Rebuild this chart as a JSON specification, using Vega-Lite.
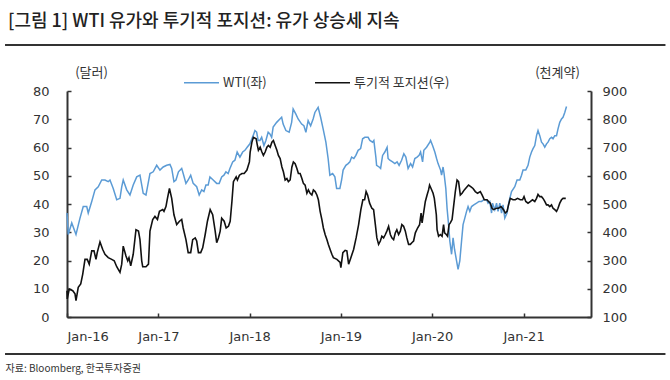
{
  "$schema": "https://vega.github.io/schema/vega-lite/v6.json",
  "width": 524,
  "height": 226,
  "autosize": {"type": "none"},
  "padding": {"left": 67, "top": 91, "right": 79, "bottom": 63},
  "background": "white",
  "config": {
    "view": {"stroke": null},
    "font": "Noto Sans CJK KR",
    "axis": {
      "grid": false,
      "labelFont": "DejaVu Sans",
      "labelFontSize": 13,
      "labelColor": "#333333",
      "domainColor": "#333333",
      "domainWidth": 2,
      "tickColor": "#333333",
      "tickWidth": 1.5,
      "tickSize": -4,
      "titleFont": "Noto Sans CJK KR",
      "titleFontWeight": "normal",
      "titleColor": "#333333"
    }
  },
  "title": {
    "text": "[그림 1] WTI 유가와 투기적 포지션: 유가 상승세 지속",
    "anchor": "start",
    "frame": "group",
    "dx": -59,
    "dy": 17,
    "offset": 12,
    "fontSize": 18,
    "font": "Noto Sans CJK KR",
    "fontWeight": 500,
    "color": "#222222",
    "baseline": "bottom"
  },
  "datasets": {
    "wti": [
      {"date": "2016-01-01", "wti": 36.8},
      {"date": "2016-01-06", "wti": 29.2},
      {"date": "2016-01-20", "wti": 33.3},
      {"date": "2016-02-06", "wti": 29.2},
      {"date": "2016-02-22", "wti": 35.0},
      {"date": "2016-03-06", "wti": 39.1},
      {"date": "2016-03-20", "wti": 39.1},
      {"date": "2016-03-26", "wti": 36.8},
      {"date": "2016-04-09", "wti": 40.9},
      {"date": "2016-04-22", "wti": 45.0},
      {"date": "2016-05-05", "wti": 46.1},
      {"date": "2016-05-19", "wti": 48.5},
      {"date": "2016-06-01", "wti": 48.5},
      {"date": "2016-06-14", "wti": 47.9},
      {"date": "2016-06-21", "wti": 48.5},
      {"date": "2016-07-04", "wti": 45.5},
      {"date": "2016-07-18", "wti": 41.5},
      {"date": "2016-07-31", "wti": 42.0},
      {"date": "2016-08-07", "wti": 46.1},
      {"date": "2016-08-13", "wti": 48.5},
      {"date": "2016-08-27", "wti": 45.0},
      {"date": "2016-09-09", "wti": 43.2},
      {"date": "2016-09-22", "wti": 46.7},
      {"date": "2016-10-06", "wti": 49.6},
      {"date": "2016-10-19", "wti": 50.2},
      {"date": "2016-11-01", "wti": 43.8},
      {"date": "2016-11-12", "wti": 43.2},
      {"date": "2016-11-17", "wti": 45.5},
      {"date": "2016-11-28", "wti": 50.8},
      {"date": "2016-12-11", "wti": 51.4},
      {"date": "2016-12-25", "wti": 53.7},
      {"date": "2017-01-07", "wti": 52.0},
      {"date": "2017-01-20", "wti": 53.1},
      {"date": "2017-02-03", "wti": 53.7},
      {"date": "2017-02-16", "wti": 54.0},
      {"date": "2017-02-23", "wti": 52.6},
      {"date": "2017-03-04", "wti": 47.9},
      {"date": "2017-03-12", "wti": 48.5},
      {"date": "2017-03-22", "wti": 51.4},
      {"date": "2017-04-04", "wti": 52.6},
      {"date": "2017-04-10", "wti": 50.8},
      {"date": "2017-04-21", "wti": 47.3},
      {"date": "2017-04-30", "wti": 48.5},
      {"date": "2017-05-10", "wti": 50.2},
      {"date": "2017-05-20", "wti": 47.3},
      {"date": "2017-06-03", "wti": 46.1},
      {"date": "2017-06-13", "wti": 43.2},
      {"date": "2017-06-23", "wti": 45.0},
      {"date": "2017-07-02", "wti": 44.4},
      {"date": "2017-07-10", "wti": 46.7},
      {"date": "2017-07-19", "wti": 46.7},
      {"date": "2017-07-26", "wti": 49.6},
      {"date": "2017-08-08", "wti": 48.5},
      {"date": "2017-08-22", "wti": 47.3},
      {"date": "2017-09-01", "wti": 47.3},
      {"date": "2017-09-11", "wti": 49.6},
      {"date": "2017-09-20", "wti": 50.2},
      {"date": "2017-09-28", "wti": 51.4},
      {"date": "2017-10-07", "wti": 50.8},
      {"date": "2017-10-14", "wti": 52.6},
      {"date": "2017-10-25", "wti": 54.9},
      {"date": "2017-11-03", "wti": 55.5},
      {"date": "2017-11-12", "wti": 58.4},
      {"date": "2017-11-23", "wti": 56.6},
      {"date": "2017-12-04", "wti": 58.4},
      {"date": "2017-12-13", "wti": 59.0},
      {"date": "2017-12-22", "wti": 60.1},
      {"date": "2018-01-02", "wti": 61.3},
      {"date": "2018-01-15", "wti": 64.2},
      {"date": "2018-01-22", "wti": 66.0},
      {"date": "2018-01-29", "wti": 65.4},
      {"date": "2018-02-04", "wti": 62.5},
      {"date": "2018-02-11", "wti": 62.5},
      {"date": "2018-02-18", "wti": 63.6},
      {"date": "2018-02-27", "wti": 60.7},
      {"date": "2018-03-07", "wti": 62.5},
      {"date": "2018-03-16", "wti": 65.4},
      {"date": "2018-03-23", "wti": 64.8},
      {"date": "2018-03-30", "wti": 63.6},
      {"date": "2018-04-05", "wti": 67.2},
      {"date": "2018-04-19", "wti": 68.9},
      {"date": "2018-05-02", "wti": 70.1},
      {"date": "2018-05-09", "wti": 70.7},
      {"date": "2018-05-15", "wti": 68.3},
      {"date": "2018-05-26", "wti": 66.0},
      {"date": "2018-06-08", "wti": 65.4},
      {"date": "2018-06-18", "wti": 68.9},
      {"date": "2018-06-24", "wti": 73.6},
      {"date": "2018-07-05", "wti": 71.8},
      {"date": "2018-07-14", "wti": 70.1},
      {"date": "2018-07-28", "wti": 68.3},
      {"date": "2018-08-06", "wti": 67.7},
      {"date": "2018-08-14", "wti": 65.4},
      {"date": "2018-08-23", "wti": 69.5},
      {"date": "2018-09-02", "wti": 67.7},
      {"date": "2018-09-12", "wti": 70.1},
      {"date": "2018-09-19", "wti": 72.4},
      {"date": "2018-10-02", "wti": 74.2},
      {"date": "2018-10-12", "wti": 70.7},
      {"date": "2018-10-22", "wti": 66.6},
      {"date": "2018-11-02", "wti": 61.9},
      {"date": "2018-11-11", "wti": 56.1},
      {"date": "2018-11-18", "wti": 50.2},
      {"date": "2018-11-29", "wti": 50.8},
      {"date": "2018-12-08", "wti": 49.6},
      {"date": "2018-12-15", "wti": 45.5},
      {"date": "2018-12-28", "wti": 45.5},
      {"date": "2019-01-04", "wti": 48.5},
      {"date": "2019-01-10", "wti": 52.0},
      {"date": "2019-01-21", "wti": 53.7},
      {"date": "2019-01-30", "wti": 54.3},
      {"date": "2019-02-06", "wti": 54.9},
      {"date": "2019-02-13", "wti": 56.6},
      {"date": "2019-02-22", "wti": 56.1},
      {"date": "2019-03-02", "wti": 57.2},
      {"date": "2019-03-11", "wti": 59.0},
      {"date": "2019-03-21", "wti": 59.6},
      {"date": "2019-03-29", "wti": 63.1},
      {"date": "2019-04-07", "wti": 63.6},
      {"date": "2019-04-20", "wti": 63.6},
      {"date": "2019-04-27", "wti": 62.5},
      {"date": "2019-05-08", "wti": 61.9},
      {"date": "2019-05-13", "wti": 62.5},
      {"date": "2019-05-21", "wti": 56.6},
      {"date": "2019-05-24", "wti": 53.7},
      {"date": "2019-06-03", "wti": 53.1},
      {"date": "2019-06-09", "wti": 52.6},
      {"date": "2019-06-17", "wti": 57.2},
      {"date": "2019-06-26", "wti": 58.4},
      {"date": "2019-07-05", "wti": 60.1},
      {"date": "2019-07-09", "wti": 56.1},
      {"date": "2019-07-16", "wti": 55.5},
      {"date": "2019-07-27", "wti": 54.9},
      {"date": "2019-08-05", "wti": 54.3},
      {"date": "2019-08-14", "wti": 54.9},
      {"date": "2019-08-22", "wti": 53.7},
      {"date": "2019-09-01", "wti": 55.5},
      {"date": "2019-09-10", "wti": 57.8},
      {"date": "2019-09-18", "wti": 56.6},
      {"date": "2019-09-27", "wti": 52.6},
      {"date": "2019-10-07", "wti": 54.3},
      {"date": "2019-10-15", "wti": 53.1},
      {"date": "2019-10-24", "wti": 56.1},
      {"date": "2019-11-02", "wti": 56.6},
      {"date": "2019-11-10", "wti": 57.2},
      {"date": "2019-11-16", "wti": 58.4},
      {"date": "2019-11-24", "wti": 54.9},
      {"date": "2019-11-29", "wti": 59.0},
      {"date": "2019-12-10", "wti": 60.1},
      {"date": "2019-12-23", "wti": 61.9},
      {"date": "2019-12-26", "wti": 62.5},
      {"date": "2020-01-03", "wti": 60.7},
      {"date": "2020-01-12", "wti": 58.4},
      {"date": "2020-01-19", "wti": 56.1},
      {"date": "2020-01-25", "wti": 54.3},
      {"date": "2020-02-04", "wti": 52.0},
      {"date": "2020-02-08", "wti": 50.2},
      {"date": "2020-02-14", "wti": 53.1},
      {"date": "2020-02-18", "wti": 50.8},
      {"date": "2020-02-25", "wti": 45.5},
      {"date": "2020-03-01", "wti": 38.5},
      {"date": "2020-03-07", "wti": 32.7},
      {"date": "2020-03-12", "wti": 26.9},
      {"date": "2020-03-19", "wti": 22.2},
      {"date": "2020-03-25", "wti": 28.0},
      {"date": "2020-03-31", "wti": 23.9},
      {"date": "2020-04-08", "wti": 19.9},
      {"date": "2020-04-14", "wti": 16.9},
      {"date": "2020-04-21", "wti": 19.9},
      {"date": "2020-04-28", "wti": 26.9},
      {"date": "2020-05-04", "wti": 32.7},
      {"date": "2020-05-11", "wti": 35.0},
      {"date": "2020-05-18", "wti": 37.4},
      {"date": "2020-05-24", "wti": 39.1},
      {"date": "2020-05-31", "wti": 37.4},
      {"date": "2020-06-07", "wti": 39.1},
      {"date": "2020-06-16", "wti": 39.7},
      {"date": "2020-06-27", "wti": 40.3},
      {"date": "2020-07-07", "wti": 40.9},
      {"date": "2020-07-17", "wti": 40.9},
      {"date": "2020-07-26", "wti": 41.5},
      {"date": "2020-08-06", "wti": 41.5},
      {"date": "2020-08-12", "wti": 40.3},
      {"date": "2020-08-19", "wti": 40.9},
      {"date": "2020-08-26", "wti": 36.8},
      {"date": "2020-08-30", "wti": 40.3},
      {"date": "2020-09-08", "wti": 38.0},
      {"date": "2020-09-15", "wti": 40.3},
      {"date": "2020-09-21", "wti": 37.4},
      {"date": "2020-09-28", "wti": 40.3},
      {"date": "2020-10-05", "wti": 36.8},
      {"date": "2020-10-11", "wti": 39.7},
      {"date": "2020-10-18", "wti": 35.0},
      {"date": "2020-10-27", "wti": 36.8},
      {"date": "2020-11-04", "wti": 40.9},
      {"date": "2020-11-14", "wti": 44.4},
      {"date": "2020-11-27", "wti": 46.1},
      {"date": "2020-12-06", "wti": 48.5},
      {"date": "2020-12-17", "wti": 48.5},
      {"date": "2020-12-24", "wti": 50.2},
      {"date": "2020-12-30", "wti": 52.0},
      {"date": "2021-01-10", "wti": 52.0},
      {"date": "2021-01-19", "wti": 53.7},
      {"date": "2021-01-26", "wti": 56.6},
      {"date": "2021-02-02", "wti": 58.4},
      {"date": "2021-02-08", "wti": 59.6},
      {"date": "2021-02-15", "wti": 60.7},
      {"date": "2021-02-22", "wti": 64.2},
      {"date": "2021-02-28", "wti": 66.0},
      {"date": "2021-03-07", "wti": 64.2},
      {"date": "2021-03-14", "wti": 61.9},
      {"date": "2021-03-20", "wti": 61.3},
      {"date": "2021-03-27", "wti": 60.1},
      {"date": "2021-04-03", "wti": 61.3},
      {"date": "2021-04-09", "wti": 61.9},
      {"date": "2021-04-16", "wti": 63.1},
      {"date": "2021-04-23", "wti": 63.6},
      {"date": "2021-04-29", "wti": 63.1},
      {"date": "2021-05-06", "wti": 64.2},
      {"date": "2021-05-13", "wti": 64.2},
      {"date": "2021-05-19", "wti": 66.6},
      {"date": "2021-05-26", "wti": 68.9},
      {"date": "2021-06-02", "wti": 70.1},
      {"date": "2021-06-08", "wti": 70.7},
      {"date": "2021-06-15", "wti": 72.4},
      {"date": "2021-06-22", "wti": 74.5}
    ],
    "pos": [
      {"date": "2016-01-01", "pos": 193},
      {"date": "2016-01-02", "pos": 164},
      {"date": "2016-01-10", "pos": 199},
      {"date": "2016-01-24", "pos": 193},
      {"date": "2016-02-02", "pos": 182},
      {"date": "2016-02-06", "pos": 158},
      {"date": "2016-02-15", "pos": 205},
      {"date": "2016-02-25", "pos": 217},
      {"date": "2016-03-04", "pos": 252},
      {"date": "2016-03-13", "pos": 304},
      {"date": "2016-03-22", "pos": 304},
      {"date": "2016-03-30", "pos": 287},
      {"date": "2016-04-09", "pos": 334},
      {"date": "2016-04-18", "pos": 334},
      {"date": "2016-04-26", "pos": 304},
      {"date": "2016-05-01", "pos": 328},
      {"date": "2016-05-12", "pos": 366},
      {"date": "2016-05-23", "pos": 339},
      {"date": "2016-06-01", "pos": 322},
      {"date": "2016-06-14", "pos": 310},
      {"date": "2016-06-28", "pos": 304},
      {"date": "2016-07-08", "pos": 299},
      {"date": "2016-07-18", "pos": 278},
      {"date": "2016-07-31", "pos": 258},
      {"date": "2016-08-07", "pos": 287},
      {"date": "2016-08-13", "pos": 351},
      {"date": "2016-08-24", "pos": 316},
      {"date": "2016-08-31", "pos": 299},
      {"date": "2016-09-05", "pos": 310},
      {"date": "2016-09-12", "pos": 281},
      {"date": "2016-09-22", "pos": 322},
      {"date": "2016-10-03", "pos": 409},
      {"date": "2016-10-13", "pos": 404},
      {"date": "2016-10-19", "pos": 374},
      {"date": "2016-10-26", "pos": 299},
      {"date": "2016-10-30", "pos": 278},
      {"date": "2016-11-12", "pos": 278},
      {"date": "2016-11-22", "pos": 287},
      {"date": "2016-11-28", "pos": 404},
      {"date": "2016-12-09", "pos": 445},
      {"date": "2016-12-18", "pos": 456},
      {"date": "2016-12-28", "pos": 445},
      {"date": "2017-01-05", "pos": 474},
      {"date": "2017-01-18", "pos": 480},
      {"date": "2017-01-23", "pos": 474},
      {"date": "2017-01-31", "pos": 491},
      {"date": "2017-02-06", "pos": 520},
      {"date": "2017-02-14", "pos": 555},
      {"date": "2017-02-23", "pos": 520},
      {"date": "2017-03-04", "pos": 462},
      {"date": "2017-03-15", "pos": 427},
      {"date": "2017-03-26", "pos": 439},
      {"date": "2017-04-04", "pos": 445},
      {"date": "2017-04-10", "pos": 415},
      {"date": "2017-04-21", "pos": 374},
      {"date": "2017-04-30", "pos": 328},
      {"date": "2017-05-10", "pos": 328},
      {"date": "2017-05-18", "pos": 374},
      {"date": "2017-05-28", "pos": 380},
      {"date": "2017-06-03", "pos": 369},
      {"date": "2017-06-10", "pos": 328},
      {"date": "2017-06-19", "pos": 328},
      {"date": "2017-06-27", "pos": 345},
      {"date": "2017-07-07", "pos": 392},
      {"date": "2017-07-16", "pos": 439},
      {"date": "2017-07-27", "pos": 480},
      {"date": "2017-08-06", "pos": 462},
      {"date": "2017-08-16", "pos": 404},
      {"date": "2017-08-22", "pos": 363},
      {"date": "2017-08-29", "pos": 380},
      {"date": "2017-09-05", "pos": 404},
      {"date": "2017-09-11", "pos": 450},
      {"date": "2017-09-21", "pos": 439},
      {"date": "2017-09-29", "pos": 415},
      {"date": "2017-10-08", "pos": 421},
      {"date": "2017-10-15", "pos": 439},
      {"date": "2017-10-22", "pos": 509},
      {"date": "2017-10-28", "pos": 579},
      {"date": "2017-11-08", "pos": 596},
      {"date": "2017-11-13", "pos": 585},
      {"date": "2017-11-21", "pos": 602},
      {"date": "2017-12-01", "pos": 608},
      {"date": "2017-12-10", "pos": 608},
      {"date": "2017-12-21", "pos": 620},
      {"date": "2017-12-31", "pos": 649},
      {"date": "2018-01-03", "pos": 684},
      {"date": "2018-01-10", "pos": 719},
      {"date": "2018-01-16", "pos": 736},
      {"date": "2018-01-27", "pos": 731},
      {"date": "2018-02-01", "pos": 707},
      {"date": "2018-02-05", "pos": 690},
      {"date": "2018-02-12", "pos": 701},
      {"date": "2018-02-19", "pos": 684},
      {"date": "2018-02-25", "pos": 672},
      {"date": "2018-03-04", "pos": 684},
      {"date": "2018-03-11", "pos": 701},
      {"date": "2018-03-17", "pos": 707},
      {"date": "2018-03-24", "pos": 701},
      {"date": "2018-03-31", "pos": 719},
      {"date": "2018-04-06", "pos": 725},
      {"date": "2018-04-13", "pos": 707},
      {"date": "2018-04-20", "pos": 690},
      {"date": "2018-04-26", "pos": 672},
      {"date": "2018-05-03", "pos": 661},
      {"date": "2018-05-10", "pos": 631},
      {"date": "2018-05-16", "pos": 614},
      {"date": "2018-05-23", "pos": 585},
      {"date": "2018-05-30", "pos": 590},
      {"date": "2018-06-05", "pos": 579},
      {"date": "2018-06-12", "pos": 585},
      {"date": "2018-06-19", "pos": 631},
      {"date": "2018-06-25", "pos": 649},
      {"date": "2018-07-02", "pos": 643},
      {"date": "2018-07-09", "pos": 626},
      {"date": "2018-07-15", "pos": 608},
      {"date": "2018-07-22", "pos": 608},
      {"date": "2018-07-29", "pos": 590},
      {"date": "2018-08-04", "pos": 573},
      {"date": "2018-08-11", "pos": 567},
      {"date": "2018-08-18", "pos": 538},
      {"date": "2018-08-24", "pos": 550},
      {"date": "2018-08-31", "pos": 538},
      {"date": "2018-09-07", "pos": 532},
      {"date": "2018-09-13", "pos": 550},
      {"date": "2018-09-20", "pos": 544},
      {"date": "2018-09-27", "pos": 532},
      {"date": "2018-10-03", "pos": 515},
      {"date": "2018-10-10", "pos": 474},
      {"date": "2018-10-17", "pos": 445},
      {"date": "2018-10-23", "pos": 415},
      {"date": "2018-10-30", "pos": 392},
      {"date": "2018-11-06", "pos": 374},
      {"date": "2018-11-12", "pos": 357},
      {"date": "2018-11-19", "pos": 339},
      {"date": "2018-11-26", "pos": 322},
      {"date": "2018-12-02", "pos": 310},
      {"date": "2018-12-16", "pos": 304},
      {"date": "2018-12-29", "pos": 293},
      {"date": "2019-01-01", "pos": 275},
      {"date": "2019-01-09", "pos": 328},
      {"date": "2019-01-18", "pos": 336},
      {"date": "2019-01-25", "pos": 334},
      {"date": "2019-02-01", "pos": 287},
      {"date": "2019-02-10", "pos": 310},
      {"date": "2019-02-21", "pos": 339},
      {"date": "2019-03-03", "pos": 380},
      {"date": "2019-03-13", "pos": 427},
      {"date": "2019-03-22", "pos": 480},
      {"date": "2019-03-30", "pos": 515},
      {"date": "2019-04-06", "pos": 515},
      {"date": "2019-04-12", "pos": 544},
      {"date": "2019-04-18", "pos": 532},
      {"date": "2019-04-26", "pos": 503},
      {"date": "2019-05-05", "pos": 485},
      {"date": "2019-05-12", "pos": 480},
      {"date": "2019-05-19", "pos": 427},
      {"date": "2019-05-25", "pos": 380},
      {"date": "2019-06-01", "pos": 357},
      {"date": "2019-06-08", "pos": 369},
      {"date": "2019-06-14", "pos": 386},
      {"date": "2019-06-21", "pos": 380},
      {"date": "2019-06-28", "pos": 392},
      {"date": "2019-07-04", "pos": 404},
      {"date": "2019-07-11", "pos": 421},
      {"date": "2019-07-18", "pos": 392},
      {"date": "2019-07-24", "pos": 380},
      {"date": "2019-07-31", "pos": 374},
      {"date": "2019-08-07", "pos": 398},
      {"date": "2019-08-13", "pos": 409},
      {"date": "2019-08-20", "pos": 392},
      {"date": "2019-08-27", "pos": 404},
      {"date": "2019-09-02", "pos": 427},
      {"date": "2019-09-09", "pos": 421},
      {"date": "2019-09-16", "pos": 404},
      {"date": "2019-09-22", "pos": 380},
      {"date": "2019-09-29", "pos": 357},
      {"date": "2019-10-06", "pos": 357},
      {"date": "2019-10-12", "pos": 363},
      {"date": "2019-10-19", "pos": 369},
      {"date": "2019-10-26", "pos": 398},
      {"date": "2019-11-04", "pos": 415},
      {"date": "2019-11-12", "pos": 427},
      {"date": "2019-11-18", "pos": 468},
      {"date": "2019-11-22", "pos": 433},
      {"date": "2019-11-28", "pos": 468},
      {"date": "2019-12-05", "pos": 509},
      {"date": "2019-12-12", "pos": 532},
      {"date": "2019-12-18", "pos": 550},
      {"date": "2019-12-22", "pos": 567},
      {"date": "2019-12-28", "pos": 555},
      {"date": "2020-01-05", "pos": 538},
      {"date": "2020-01-10", "pos": 520},
      {"date": "2020-01-18", "pos": 462},
      {"date": "2020-01-21", "pos": 409},
      {"date": "2020-01-27", "pos": 386},
      {"date": "2020-02-03", "pos": 392},
      {"date": "2020-02-10", "pos": 386},
      {"date": "2020-02-16", "pos": 427},
      {"date": "2020-02-20", "pos": 398},
      {"date": "2020-02-27", "pos": 392},
      {"date": "2020-03-03", "pos": 386},
      {"date": "2020-03-09", "pos": 427},
      {"date": "2020-03-14", "pos": 433},
      {"date": "2020-03-21", "pos": 445},
      {"date": "2020-03-27", "pos": 491},
      {"date": "2020-04-03", "pos": 544},
      {"date": "2020-04-10", "pos": 585},
      {"date": "2020-04-16", "pos": 579},
      {"date": "2020-04-23", "pos": 532},
      {"date": "2020-04-30", "pos": 538},
      {"date": "2020-05-09", "pos": 550},
      {"date": "2020-05-20", "pos": 561},
      {"date": "2020-05-26", "pos": 567},
      {"date": "2020-06-05", "pos": 561},
      {"date": "2020-06-13", "pos": 555},
      {"date": "2020-06-22", "pos": 544},
      {"date": "2020-07-01", "pos": 538},
      {"date": "2020-07-12", "pos": 544},
      {"date": "2020-07-19", "pos": 532},
      {"date": "2020-07-28", "pos": 515},
      {"date": "2020-08-08", "pos": 515},
      {"date": "2020-08-14", "pos": 509},
      {"date": "2020-08-21", "pos": 503},
      {"date": "2020-08-28", "pos": 485},
      {"date": "2020-09-03", "pos": 480},
      {"date": "2020-09-14", "pos": 485},
      {"date": "2020-09-23", "pos": 485},
      {"date": "2020-10-03", "pos": 491},
      {"date": "2020-10-13", "pos": 480},
      {"date": "2020-10-20", "pos": 468},
      {"date": "2020-10-27", "pos": 474},
      {"date": "2020-11-02", "pos": 497},
      {"date": "2020-11-09", "pos": 520},
      {"date": "2020-11-20", "pos": 515},
      {"date": "2020-11-29", "pos": 515},
      {"date": "2020-12-08", "pos": 520},
      {"date": "2020-12-19", "pos": 515},
      {"date": "2020-12-28", "pos": 515},
      {"date": "2021-01-03", "pos": 526},
      {"date": "2021-01-10", "pos": 509},
      {"date": "2021-01-19", "pos": 503},
      {"date": "2021-01-29", "pos": 509},
      {"date": "2021-02-06", "pos": 515},
      {"date": "2021-02-15", "pos": 509},
      {"date": "2021-02-22", "pos": 520},
      {"date": "2021-02-28", "pos": 534},
      {"date": "2021-03-07", "pos": 526},
      {"date": "2021-03-14", "pos": 526},
      {"date": "2021-03-20", "pos": 520},
      {"date": "2021-03-27", "pos": 509},
      {"date": "2021-04-03", "pos": 497},
      {"date": "2021-04-09", "pos": 497},
      {"date": "2021-04-16", "pos": 491},
      {"date": "2021-04-23", "pos": 497},
      {"date": "2021-04-29", "pos": 485},
      {"date": "2021-05-06", "pos": 480},
      {"date": "2021-05-13", "pos": 474},
      {"date": "2021-05-19", "pos": 485},
      {"date": "2021-05-26", "pos": 503},
      {"date": "2021-06-02", "pos": 515},
      {"date": "2021-06-08", "pos": 520},
      {"date": "2021-06-19", "pos": 520}
    ]
  },
  "layer": [
    {
      "data": {"name": "wti"},
      "mark": {"type": "line", "strokeWidth": 1.5},
      "encoding": {
        "x": {
          "field": "date",
          "type": "temporal",
          "scale": {
            "type": "utc",
            "domain": [
              {"year": 2016, "month": 1, "date": 1, "utc": true},
              {"year": 2021, "month": 9, "date": 28, "utc": true}
            ]
          },
          "axis": {
            "values": [
              {"year": 2016, "month": 1, "date": 1, "utc": true},
              {"year": 2017, "month": 1, "date": 1, "utc": true},
              {"year": 2018, "month": 1, "date": 1, "utc": true},
              {"year": 2019, "month": 1, "date": 1, "utc": true},
              {"year": 2020, "month": 1, "date": 1, "utc": true},
              {"year": 2021, "month": 1, "date": 1, "utc": true}
            ],
            "format": "%b-%y",
            "labelPadding": 17,
            "title": "자료: Bloomberg, 한국투자증권",
            "titleFontSize": 10,
            "titleAlign": "left",
            "titleAnchor": "start",
            "titleBaseline": "middle",
            "titleX": -62,
            "titleY": 51
          }
        },
        "y": {
          "field": "wti",
          "type": "quantitative",
          "scale": {"domain": [0, 80], "nice": false},
          "axis": {
            "orient": "left",
            "values": [0, 10, 20, 30, 40, 50, 60, 70, 80],
            "labelPadding": 22,
            "title": "(달러)",
            "titleAngle": 0,
            "titleAlign": "center",
            "titleBaseline": "middle",
            "titleFontSize": 13,
            "titleX": 24,
            "titleY": -19
          }
        },
        "color": {
          "datum": "WTI(좌)",
          "type": "nominal",
          "scale": {"domain": ["WTI(좌)", "투기적 포지션(우)"], "range": ["#5B9BD5", "#111111"]},
          "legend": {
            "orient": "none",
            "legendX": 116,
            "legendY": -27,
            "direction": "horizontal",
            "title": null,
            "symbolType": "stroke",
            "symbolSize": 1225,
            "symbolStrokeWidth": 1.5,
            "labelFont": "Noto Sans CJK KR",
            "labelFontSize": 13,
            "labelColor": "#333333",
            "labelOffset": 3,
            "columnPadding": 45
          }
        }
      }
    },
    {
      "data": {"name": "pos"},
      "mark": {"type": "line", "strokeWidth": 1.6},
      "encoding": {
        "x": {"field": "date", "type": "temporal"},
        "y": {
          "field": "pos",
          "type": "quantitative",
          "scale": {"domain": [100, 900], "nice": false},
          "axis": {
            "orient": "right",
            "values": [100, 200, 300, 400, 500, 600, 700, 800, 900],
            "labelPadding": 15,
            "title": "(천계약)",
            "titleAngle": 0,
            "titleAlign": "center",
            "titleBaseline": "middle",
            "titleFontSize": 13,
            "titleX": -34,
            "titleY": -19
          }
        },
        "color": {"datum": "투기적 포지션(우)", "type": "nominal"}
      }
    },
    {
      "data": {"values": [{}]},
      "mark": {"type": "rule", "color": "#333333", "strokeWidth": 2},
      "encoding": {
        "x": {"datum": {"year": 2015, "month": 4, "date": 28, "utc": true}, "type": "temporal"},
        "x2": {"datum": {"year": 2022, "month": 7, "date": 23, "utc": true}},
        "y": {"datum": 96.3, "type": "quantitative", "scale": {"domain": [0, 80], "nice": false}, "axis": null}
      }
    },
    {
      "data": {"values": [{}]},
      "mark": {"type": "rule", "color": "#333333", "strokeWidth": 2},
      "encoding": {
        "x": {"datum": {"year": 2015, "month": 4, "date": 28, "utc": true}, "type": "temporal"},
        "x2": {"datum": {"year": 2022, "month": 7, "date": 23, "utc": true}},
        "y": {"datum": -13.1, "type": "quantitative", "scale": {"domain": [0, 80], "nice": false}, "axis": null}
      }
    }
  ],
  "resolve": {"scale": {"y": "independent"}}
}
